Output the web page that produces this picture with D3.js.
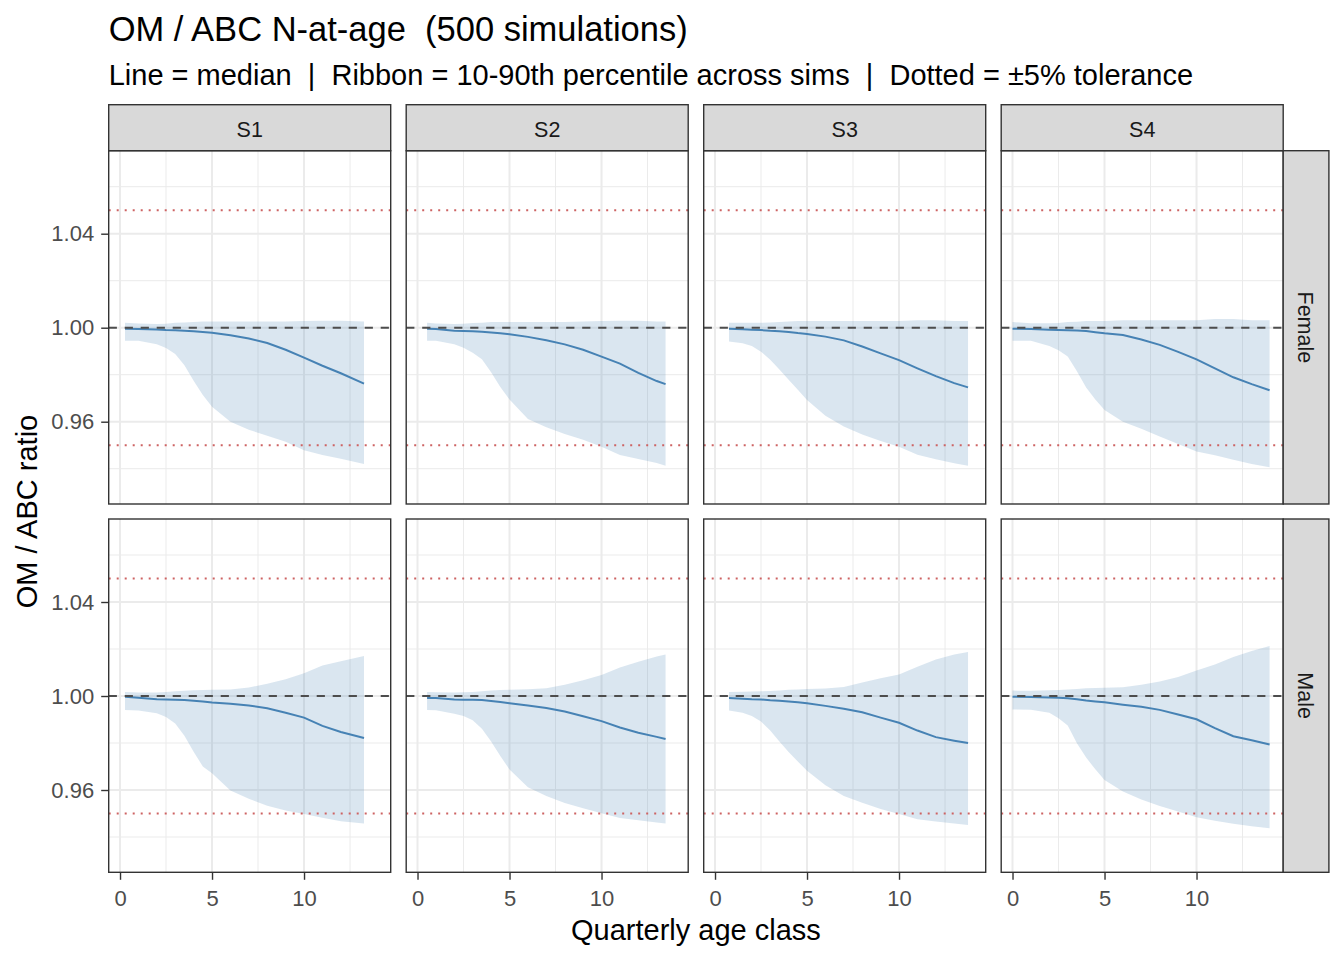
<!DOCTYPE html>
<html>
<head>
<meta charset="utf-8">
<script src="https://cdn.jsdelivr.net/npm/d3@7"></script>
<style>
  body { margin: 0; background: #fff; }
  text { font-family: "Liberation Sans", Arial, sans-serif; white-space: pre; }
</style>
</head>
<body>
<svg id="chart" width="1344" height="960"></svg>
<script>
// facets
const seasons = ["S1", "S2", "S3", "S4"];
const sexes = ["Female", "Male"];

// quarterly age class (x) per season
const ageS1 = [0.27, 1, 2, 2.5, 3, 3.5, 4, 4.5, 5, 6, 7, 8, 9, 10, 11, 12, 13.26];
const ageS2 = [0.52, 1, 2, 2.5, 3, 3.5, 4, 4.5, 5, 6, 7, 8, 9, 10, 11, 12, 13, 13.48];
const ageS3 = [0.76, 1.5, 2, 2.5, 3, 3.5, 4, 4.5, 5, 6, 7, 8, 9, 10, 11, 12, 13, 13.75];
const ageS4 = [0, 1, 2, 2.5, 3, 3.5, 4, 4.5, 5, 6, 7, 8, 9, 10, 11, 12, 13, 13.97];

// Female: median, 10th, 90th percentile of OM/ABC ratio
const medFemaleS1 = [.9996, .9995, .9992, .9990, .9989, .9987, .9985, .9982, .9979, .9968, .9954, .9935, .9906, .9873, .9838, .9806, .9762];
const loFemaleS1 = [.9945, .9944, .9930, .9914, .9888, .9840, .9774, .9714, .9664, .9600, .9566, .9540, .9515, .9479, .9458, .9442, .9420];
const hiFemaleS1 = [1.0021, 1.0018, 1.0016, 1.0017, 1.0021, 1.0022, 1.0024, 1.0026, 1.0026, 1.0026, 1.0026, 1.0026, 1.0026, 1.0028, 1.0030, 1.0030, 1.0026];

const medFemaleS2 = [.9996, .9994, .9987, .9986, .9985, .9983, .9980, .9976, .9972, .9961, .9947, .9929, .9906, .9877, .9847, .9808, .9773, .9760];
const loFemaleS2 = [.9945, .9945, .9930, .9915, .9893, .9866, .9810, .9748, .9694, .9612, .9576, .9548, .9523, .9493, .9458, .9441, .9424, .9413];
const hiFemaleS2 = [1.0021, 1.0018, 1.0016, 1.0017, 1.0020, 1.0021, 1.0024, 1.0024, 1.0024, 1.0024, 1.0024, 1.0024, 1.0026, 1.0028, 1.0030, 1.0030, 1.0026, 1.0026];

const medFemaleS3 = [.9996, .9993, .9991, .9990, .9987, .9985, .9982, .9977, .9973, .9962, .9946, .9920, .9891, .9862, .9827, .9794, .9764, .9746];
const loFemaleS3 = [.9941, .9934, .9922, .9898, .9864, .9822, .9779, .9736, .9692, .9625, .9580, .9546, .9518, .9493, .9459, .9440, .9423, .9413];
const hiFemaleS3 = [1.0021, 1.0021, 1.0021, 1.0021, 1.0022, 1.0024, 1.0026, 1.0028, 1.0028, 1.0028, 1.0028, 1.0028, 1.0028, 1.0028, 1.0032, 1.0032, 1.0028, 1.0028];

const medFemaleS4 = [.9996, .9995, .9991, .9990, .9989, .9988, .9986, .9981, .9976, .9969, .9950, .9927, .9897, .9865, .9827, .9789, .9760, .9734];
const loFemaleS4 = [.9945, .9944, .9922, .9904, .9877, .9815, .9746, .9694, .9650, .9600, .9570, .9537, .9505, .9473, .9457, .9438, .9420, .9406];
const hiFemaleS4 = [1.0024, 1.0019, 1.0019, 1.0020, 1.0024, 1.0025, 1.0028, 1.0028, 1.0028, 1.0032, 1.0032, 1.0032, 1.0032, 1.0032, 1.0037, 1.0037, 1.0032, 1.0032];

// Male
const medMaleS1 = [.9997, .9993, .9986, .9985, .9984, .9983, .9980, .9977, .9972, .9967, .9960, .9948, .9929, .9908, .9873, .9847, .9821];
const loMaleS1 = [.9940, .9938, .9927, .9911, .9883, .9831, .9763, .9700, .9671, .9598, .9563, .9533, .9513, .9498, .9482, .9467, .9457];
const hiMaleS1 = [1.0017, 1.0015, 1.0015, 1.0017, 1.0020, 1.0022, 1.0025, 1.0026, 1.0027, 1.0028, 1.0036, 1.0052, 1.0071, 1.0097, 1.0130, 1.0148, 1.0170];

const medMaleS2 = [.9991, .9991, .9985, .9984, .9984, .9983, .9979, .9974, .9969, .9960, .9949, .9934, .9914, .9893, .9866, .9844, .9826, .9817];
const loMaleS2 = [.9940, .9939, .9925, .9915, .9897, .9861, .9806, .9745, .9687, .9612, .9575, .9545, .9522, .9501, .9481, .9471, .9462, .9457];
const hiMaleS2 = [1.0017, 1.0016, 1.0015, 1.0016, 1.0017, 1.0020, 1.0023, 1.0026, 1.0027, 1.0029, 1.0033, 1.0048, 1.0067, 1.0089, 1.0121, 1.0146, 1.0168, 1.0177];

const medMaleS3 = [.9991, .9988, .9986, .9985, .9982, .9980, .9977, .9973, .9969, .9958, .9946, .9931, .9908, .9886, .9853, .9825, .9810, .9800];
const loMaleS3 = [.9938, .9929, .9915, .9891, .9853, .9806, .9762, .9721, .9682, .9620, .9574, .9546, .9519, .9498, .9476, .9466, .9457, .9451];
const hiMaleS3 = [1.0017, 1.0018, 1.0019, 1.0020, 1.0021, 1.0023, 1.0027, 1.0028, 1.0030, 1.0032, 1.0038, 1.0057, 1.0076, 1.0092, 1.0124, 1.0155, 1.0177, 1.0187];

const medMaleS4 = [.9997, .9996, .9994, .9993, .9990, .9986, .9981, .9977, .9973, .9963, .9954, .9941, .9921, .9901, .9863, .9829, .9812, .9794];
const loMaleS4 = [.9943, .9941, .9929, .9905, .9874, .9799, .9738, .9688, .9643, .9594, .9560, .9532, .9509, .9484, .9469, .9456, .9446, .9437];
const hiMaleS4 = [1.0023, 1.0022, 1.0024, 1.0026, 1.0028, 1.0030, 1.0033, 1.0034, 1.0035, 1.0037, 1.0048, 1.0062, 1.0081, 1.0108, 1.0134, 1.0166, 1.0192, 1.0213];

// axes / reference lines
const xTicks = [0, 5, 10];
const xMinor = [2.5, 7.5, 12.5];
const yTicks = [0.96, 1.00, 1.04];
const yMinor = [0.94, 0.98, 1.02, 1.06];
const toleranceLines = [0.95, 1.05];
const referenceLine = 1;

const ages = { S1: ageS1, S2: ageS2, S3: ageS3, S4: ageS4 };
const series = {
  Female: {
    S1: [medFemaleS1, loFemaleS1, hiFemaleS1], S2: [medFemaleS2, loFemaleS2, hiFemaleS2],
    S3: [medFemaleS3, loFemaleS3, hiFemaleS3], S4: [medFemaleS4, loFemaleS4, hiFemaleS4]
  },
  Male: {
    S1: [medMaleS1, loMaleS1, hiMaleS1], S2: [medMaleS2, loMaleS2, hiMaleS2],
    S3: [medMaleS3, loMaleS3, hiMaleS3], S4: [medMaleS4, loMaleS4, hiMaleS4]
  }
};

// layout
const left0 = 108.7, top0 = 150.7;
const panelW = 282, panelH = 353.3, gapX = 15.5, gapY = 15;
const stripH = 46, stripW = 45.7;
const blue = "#4682B4";

const svg = d3.select("#chart");

const x = d3.scaleLinear().domain([-0.615, 14.71]).range([0, panelW]);
const y = d3.scaleLinear().domain([0.92498, 1.07532]).range([panelH, 0]);

svg.append("text")
  .attr("x", left0).attr("y", 41)
  .attr("font-size", 34.5).attr("fill", "#000")
  .text("OM / ABC N-at-age  (500 simulations)");

svg.append("text")
  .attr("x", left0).attr("y", 85)
  .attr("font-size", 29).attr("fill", "#000")
  .text("Line = median  |  Ribbon = 10-90th percentile across sims  |  Dotted = ±5% tolerance");

sexes.forEach((sex, i) => {
  seasons.forEach((season, j) => {
    const px = left0 + j * (panelW + gapX);
    const py = top0 + i * (panelH + gapY);
    const g = svg.append("g").attr("transform", `translate(${px},${py})`);

    const [med, lo, hi] = series[sex][season];
    const rows = ages[season].map((a, k) => ({ age: a, med: med[k], lo: lo[k], hi: hi[k] }));

    g.append("rect").attr("width", panelW).attr("height", panelH).attr("fill", "#fff");

    // grid
    g.selectAll(".xminor").data(xMinor).enter().append("line")
      .attr("x1", d => x(d)).attr("x2", d => x(d)).attr("y1", 0).attr("y2", panelH)
      .attr("stroke", "#EBEBEB").attr("stroke-width", 1);
    g.selectAll(".yminor").data(yMinor).enter().append("line")
      .attr("y1", d => y(d)).attr("y2", d => y(d)).attr("x1", 0).attr("x2", panelW)
      .attr("stroke", "#EBEBEB").attr("stroke-width", 1);
    g.selectAll(".xmajor").data(xTicks).enter().append("line")
      .attr("x1", d => x(d)).attr("x2", d => x(d)).attr("y1", 0).attr("y2", panelH)
      .attr("stroke", "#EBEBEB").attr("stroke-width", 2);
    g.selectAll(".ymajor").data(yTicks).enter().append("line")
      .attr("y1", d => y(d)).attr("y2", d => y(d)).attr("x1", 0).attr("x2", panelW)
      .attr("stroke", "#EBEBEB").attr("stroke-width", 2);

    // ribbon + median
    g.append("path").datum(rows)
      .attr("d", d3.area().x(d => x(d.age)).y0(d => y(d.lo)).y1(d => y(d.hi)))
      .attr("fill", blue).attr("fill-opacity", 0.2);
    g.append("path").datum(rows)
      .attr("d", d3.line().x(d => x(d.age)).y(d => y(d.med)))
      .attr("fill", "none").attr("stroke", blue).attr("stroke-width", 2);

    // tolerance + reference
    g.selectAll(".tol").data(toleranceLines).enter().append("line")
      .attr("x1", 0).attr("x2", panelW).attr("y1", d => y(d)).attr("y2", d => y(d))
      .attr("stroke", "#CD6363").attr("stroke-width", 2).attr("stroke-dasharray", "2,6");
    g.append("line")
      .attr("x1", 0).attr("x2", panelW).attr("y1", y(referenceLine)).attr("y2", y(referenceLine))
      .attr("stroke", "#4D4D4D").attr("stroke-width", 2).attr("stroke-dasharray", "8.2,7.8");

    g.append("rect").attr("width", panelW).attr("height", panelH)
      .attr("fill", "none").attr("stroke", "#333333").attr("stroke-width", 1.4);

    // top strip
    if (i === 0) {
      g.append("rect").attr("y", -stripH).attr("width", panelW).attr("height", stripH)
        .attr("fill", "#D9D9D9").attr("stroke", "#333333").attr("stroke-width", 1.4);
      g.append("text").attr("x", panelW / 2).attr("y", -stripH / 2 + 9)
        .attr("text-anchor", "middle").attr("font-size", 21.5).attr("fill", "#1A1A1A")
        .text(season);
    }
    // right strip
    if (j === seasons.length - 1) {
      g.append("rect").attr("x", panelW).attr("width", stripW).attr("height", panelH)
        .attr("fill", "#D9D9D9").attr("stroke", "#333333").attr("stroke-width", 1.4);
      g.append("text")
        .attr("transform", `translate(${panelW + stripW / 2 - 8},${panelH / 2}) rotate(90)`)
        .attr("text-anchor", "middle").attr("font-size", 21.5).attr("fill", "#1A1A1A")
        .text(sex);
    }
    // y axis on first column
    if (j === 0) {
      const ay = g.append("g").call(d3.axisLeft(y).tickValues(yTicks).tickSize(7.5).tickPadding(7)
        .tickFormat(d3.format(".2f")));
      ay.select(".domain").remove();
      ay.selectAll("line").attr("stroke", "#333333").attr("stroke-width", 1.4);
      ay.selectAll("text").attr("font-size", 22).attr("fill", "#4D4D4D")
        .attr("font-family", "Liberation Sans, Arial, sans-serif");
    }
    // x axis on bottom row
    if (i === sexes.length - 1) {
      const ax = g.append("g").attr("transform", `translate(0,${panelH})`)
        .call(d3.axisBottom(x).tickValues(xTicks).tickSize(7.5).tickPadding(10.5));
      ax.select(".domain").remove();
      ax.selectAll("line").attr("stroke", "#333333").attr("stroke-width", 1.4);
      ax.selectAll("text").attr("font-size", 22).attr("fill", "#4D4D4D")
        .attr("font-family", "Liberation Sans, Arial, sans-serif");
    }
  });
});

const panelsRight = left0 + 4 * panelW + 3 * gapX;
const panelsBottom = top0 + 2 * panelH + gapY;

svg.append("text")
  .attr("x", (left0 + panelsRight) / 2).attr("y", 940)
  .attr("text-anchor", "middle").attr("font-size", 29).attr("fill", "#000")
  .text("Quarterly age class");

svg.append("text")
  .attr("transform", `translate(37,${(top0 + panelsBottom) / 2}) rotate(-90)`)
  .attr("text-anchor", "middle").attr("font-size", 29).attr("fill", "#000")
  .text("OM / ABC ratio");
</script>
</body>
</html>
